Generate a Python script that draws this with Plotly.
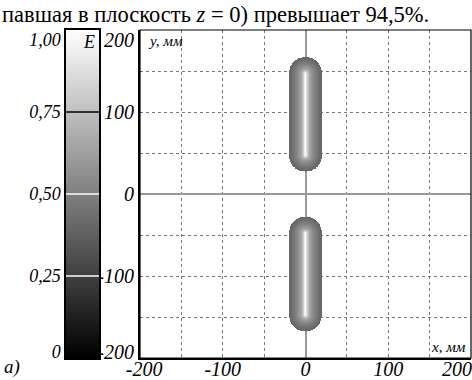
import numpy as np
import plotly.graph_objects as go

# ---- data ----
caption = "павшая в плоскость <i>z</i> = 0) превышает 94,5%."
beam_center_y = [97, -98]          # mm, centre of each elongated spot
beam_half_length = [50, 50]        # mm, half length of straight part
beam_radius = [20, 20]             # mm, half width of the spot
profile_r = [0.0, 0.05, 0.12, 0.25, 0.45, 0.65, 0.85, 1.0]   # relative distance from spot axis
profile_E = [0.98, 0.93, 0.80, 0.65, 0.55, 0.48, 0.42, 0.40]  # normalised intensity E
xy_ticks = [-200, -100, 0, 100, 200]
xy_tick_labels = ["-200", "-100", "0", "100", "200"]
grid_ticks = [-150, -100, -50, 50, 100, 150]
cb_ticks = [0, 0.25, 0.5, 0.75, 1.0]
cb_tick_labels = ["0", "0,25", "0,50", "0,75", "1,00"]

# ---- build field on a grid ----
gx = np.arange(-24, 24.001, 0.5)
gy = np.arange(-200, 200.001, 0.5)
X, Y = np.meshgrid(gx, gy)
Z = np.full(X.shape, np.nan)
for c, L, R in zip(beam_center_y, beam_half_length, beam_radius):
    dy = np.clip(np.abs(Y - c) - L, 0, None)
    d = np.sqrt(X ** 2 + dy ** 2)
    m = d <= R
    Z[m] = np.interp(d[m] / R, profile_r, profile_E)

# end labels are drawn pulled inward, as in the original figure
def pulled(vals, lo_shift, hi_shift):
    out = list(vals)
    out[0] = vals[0] + lo_shift
    out[-1] = vals[-1] - hi_shift
    return out

x_label_pos = pulled(xy_ticks, 5, 17)
y_label_pos = pulled(xy_ticks, 7, 12)
cb_label_pos = pulled(cb_ticks, 0.018, 0.03)

gray = [[0, "black"], [1, "white"]]
serif = "Liberation Serif, serif"

fig = go.Figure()
fig.add_trace(go.Heatmap(x=gx, y=gy, z=Z, colorscale=gray, zmin=0, zmax=1,
                         showscale=False, hoverinfo="skip"))

levels = np.linspace(0, 1, 256)
fig.add_trace(go.Heatmap(x=[0.5], y=levels, z=levels.reshape(-1, 1), colorscale=gray,
                         zmin=0, zmax=1, showscale=False, xaxis="x2", yaxis="y2",
                         hoverinfo="skip"))

y_dom = [22 / 380, 350 / 380]
tickfont = dict(family=serif, size=20, color="black", style="italic")
cbfont = dict(family=serif, size=18, color="black", style="italic")
it = lambda labels: ["<i>%s</i>" % s for s in labels]
grid_minor = dict(tickvals=grid_ticks, showgrid=True, gridcolor="#777",
                  griddash="dot", gridwidth=1, ticks="")

fig.update_layout(
    width=472, height=380,
    margin=dict(l=0, r=0, t=0, b=0),
    paper_bgcolor="white", plot_bgcolor="white",
    showlegend=False,
    font=dict(family=serif, color="black"),
    xaxis=dict(domain=[140 / 472, 471 / 472], range=[-200, 200],
               tickvals=x_label_pos, ticktext=it(xy_tick_labels), tickfont=tickfont,
               ticks="", ticklabelstandoff=-8, showgrid=False, minor=grid_minor,
               zeroline=True, zerolinecolor="#999", zerolinewidth=1.5,
               showline=True, linecolor="black", linewidth=2, automargin=False),
    yaxis=dict(domain=y_dom, range=[-200, 200],
               tickvals=y_label_pos, ticktext=it(xy_tick_labels), tickfont=tickfont,
               ticks="", showgrid=False, minor=grid_minor,
               zeroline=True, zerolinecolor="#999", zerolinewidth=1.5,
               showline=True, linecolor="black", linewidth=2, automargin=False),
    xaxis2=dict(domain=[66 / 472, 99 / 472], range=[0, 1], showticklabels=False,
                ticks="", showgrid=False, zeroline=False, anchor="y2",
                showline=True, linecolor="black", linewidth=1.5, mirror=True),
    yaxis2=dict(domain=y_dom, range=[0, 1], tickvals=cb_label_pos,
                ticktext=it(cb_tick_labels),
                tickfont=cbfont, ticks="", showgrid=False, zeroline=False, anchor="x2",
                showline=True, linecolor="black", linewidth=1.5, mirror=True,
                automargin=False),
)

fig.add_shape(type="rect", xref="x domain", yref="y domain", x0=0, x1=1, y0=0, y1=1,
              line=dict(color="black", width=1.2), layer="above")
fig.add_shape(type="line", xref="x2", yref="y2", x0=0, x1=1, y0=0.75, y1=0.75,
              line=dict(color="black", width=1.5))
for v in (0.5, 0.25):
    fig.add_shape(type="line", xref="x2", yref="y2", x0=0, x1=1, y0=v, y1=v,
                  line=dict(color="white", width=1.5))

ann_font = dict(family=serif, size=15, color="black", style="italic")
fig.add_annotation(text="<i>y</i>, <i>мм</i>", xref="paper", yref="paper",
                   x=146 / 472, y=1 - 31 / 380, xanchor="left", yanchor="top",
                   showarrow=False, font=ann_font)
fig.add_annotation(text="<i>x</i>, <i>мм</i>", xref="paper", yref="paper",
                   x=468 / 472, y=1 - 357 / 380, xanchor="right", yanchor="bottom",
                   showarrow=False, font=ann_font)
fig.add_annotation(text="<i>E</i>", xref="paper", yref="paper",
                   x=97 / 472, y=1 - 30 / 380, xanchor="right", yanchor="top",
                   showarrow=False, font=dict(family=serif, size=18, color="black"))
fig.add_annotation(text="<i>а)</i>", xref="paper", yref="paper",
                   x=2 / 472, y=0, xanchor="left", yanchor="bottom",
                   showarrow=False, font=dict(family=serif, size=19, color="black"))
fig.add_annotation(text=caption, xref="paper", yref="paper",
                   x=0, y=1, xanchor="left", yanchor="top",
                   showarrow=False, font=dict(family=serif, size=22.5, color="black"))

fig.write_html("out.html", config={"displayModeBar": False},
               post_script="document.body.style.margin='0';document.body.style.padding='0';")
